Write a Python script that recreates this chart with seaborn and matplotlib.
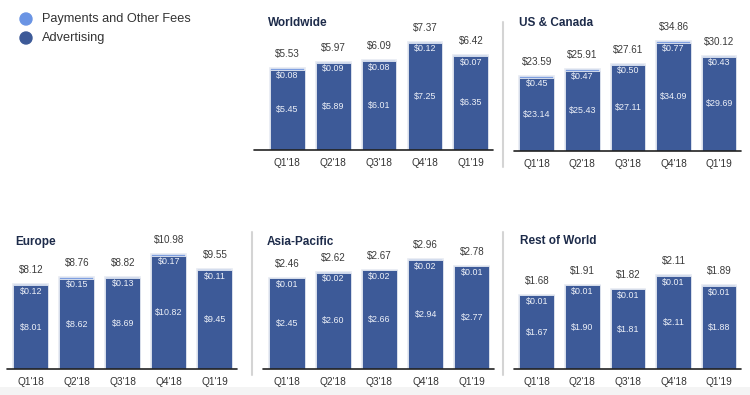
import matplotlib
matplotlib.use("Agg")
import matplotlib.pyplot as plt
import seaborn as sns
from matplotlib.patches import Ellipse, Rectangle
from matplotlib.lines import Line2D

quarters = ["Q1'18", "Q2'18", "Q3'18", "Q4'18", "Q1'19"]

ww_ads = [5.45, 5.89, 6.01, 7.25, 6.35]
ww_fees = [0.08, 0.09, 0.08, 0.12, 0.07]
ww_total = [5.53, 5.97, 6.09, 7.37, 6.42]

us_ads = [23.14, 25.43, 27.11, 34.09, 29.69]
us_fees = [0.45, 0.47, 0.50, 0.77, 0.43]
us_total = [23.59, 25.91, 27.61, 34.86, 30.12]

eu_ads = [8.01, 8.62, 8.69, 10.82, 9.45]
eu_fees = [0.12, 0.15, 0.13, 0.17, 0.11]
eu_total = [8.12, 8.76, 8.82, 10.98, 9.55]

ap_ads = [2.45, 2.60, 2.66, 2.94, 2.77]
ap_fees = [0.01, 0.02, 0.02, 0.02, 0.01]
ap_total = [2.46, 2.62, 2.67, 2.96, 2.78]

row_ads = [1.67, 1.90, 1.81, 2.11, 1.88]
row_fees = [0.01, 0.01, 0.01, 0.01, 0.01]
row_total = [1.68, 1.91, 1.82, 2.11, 1.89]

AD = "#3d5a98"
FEE = "#7f9fe0"
EDGE = "#e6eaf2"
W, H = 750, 395
AX_H = 125

sns.set_style("white")
plt.rcParams['font.family'] = ['Liberation Sans', 'DejaVu Sans']

fig = plt.figure(figsize=(7.5, 3.95), dpi=100)

# light strip at the bottom
fig.add_artist(Rectangle((0, 0), 1, 8 / H, color="#f4f4f4", zorder=0, lw=0))

# title, ads, fees, totals, axis left px, axis right px, baseline px, tallest bar px, xleft, title pos
panels = [
    ("Worldwide", ww_ads, ww_fees, ww_total, 254, 493, 149.5, 108, -0.72, (268, 23)),
    ("US & Canada", us_ads, us_fees, us_total, 514, 741, 150.5, 109.5, -0.5, (519, 23)),
    ("Europe", eu_ads, eu_fees, eu_total, 7, 237, 369, 114.7, -0.52, (15, 242)),
    ("Asia-Pacific", ap_ads, ap_fees, ap_total, 263, 494, 369, 109.7, -0.52, (267, 242)),
    ("Rest of World", row_ads, row_fees, row_total, 514, 741, 369, 93.7, -0.5, (520, 241)),
]

for title, ads, fees, total, x0, x1, base, top_px, xleft, tpos in panels:
    ax = fig.add_axes([x0 / W, 1 - base / H, (x1 - x0) / W, AX_H / H])
    stack = [a + f for a, f in zip(ads, fees)]
    sns.barplot(x=quarters, y=stack, color=FEE, width=0.76, saturation=1,
                edgecolor=EDGE, linewidth=1.2, ax=ax)
    sns.barplot(x=quarters, y=ads, color=AD, width=0.76, saturation=1,
                edgecolor=EDGE, linewidth=0.6, ax=ax)
    ax.set_ylim(0, max(stack) * AX_H / top_px)
    ax.set_xlim(xleft, 4.48)
    ax.axhline(0, color="#222222", lw=1.2, zorder=5, clip_on=False)
    for s in ax.spines.values():
        s.set_visible(False)
    ax.set_yticks([])
    ax.set_xlabel("")
    ax.set_ylabel("")
    ax.tick_params(axis="x", length=0, pad=6, labelsize=7.3, colors="#333333")

    for i in range(len(quarters)):
        ax.annotate(f"${fees[i]:.2f}", (i, stack[i]), xytext=(0, -7),
                    textcoords="offset pixels", ha="center", va="center",
                    color="#eef1f8", fontsize=6.4)
        ax.annotate(f"${ads[i]:.2f}", (i, ads[i] / 2), ha="center", va="center",
                    color="#eef1f8", fontsize=6.4)
        ax.annotate(f"${total[i]:.2f}", (i, stack[i]), xytext=(0, 14),
                    textcoords="offset pixels", ha="center", va="center",
                    color="#3a3a3a", fontsize=7.1, annotation_clip=False)

    fig.text(tpos[0] / W, 1 - tpos[1] / H, title, fontsize=8.5, fontweight="bold",
             color="#1d2b4a", ha="left", va="center")

# separators
for sx, y0, y1 in [(503, 22, 167), (252, 232, 375), (503, 232, 375)]:
    fig.add_artist(Line2D([sx / W, sx / W], [1 - y0 / H, 1 - y1 / H],
                          color="#d4d4d4", lw=1.5))

# legend
for ly, lab, col in [(19, "Payments and Other Fees", "#6a94e4"), (38, "Advertising", AD)]:
    fig.add_artist(Ellipse((26 / W, 1 - ly / H), 12 / W, 12 / H, color=col))
    fig.text(42 / W, 1 - ly / H, lab, fontsize=9.2, color="#333333",
             ha="left", va="center")

fig.savefig("out.png", dpi=100)
